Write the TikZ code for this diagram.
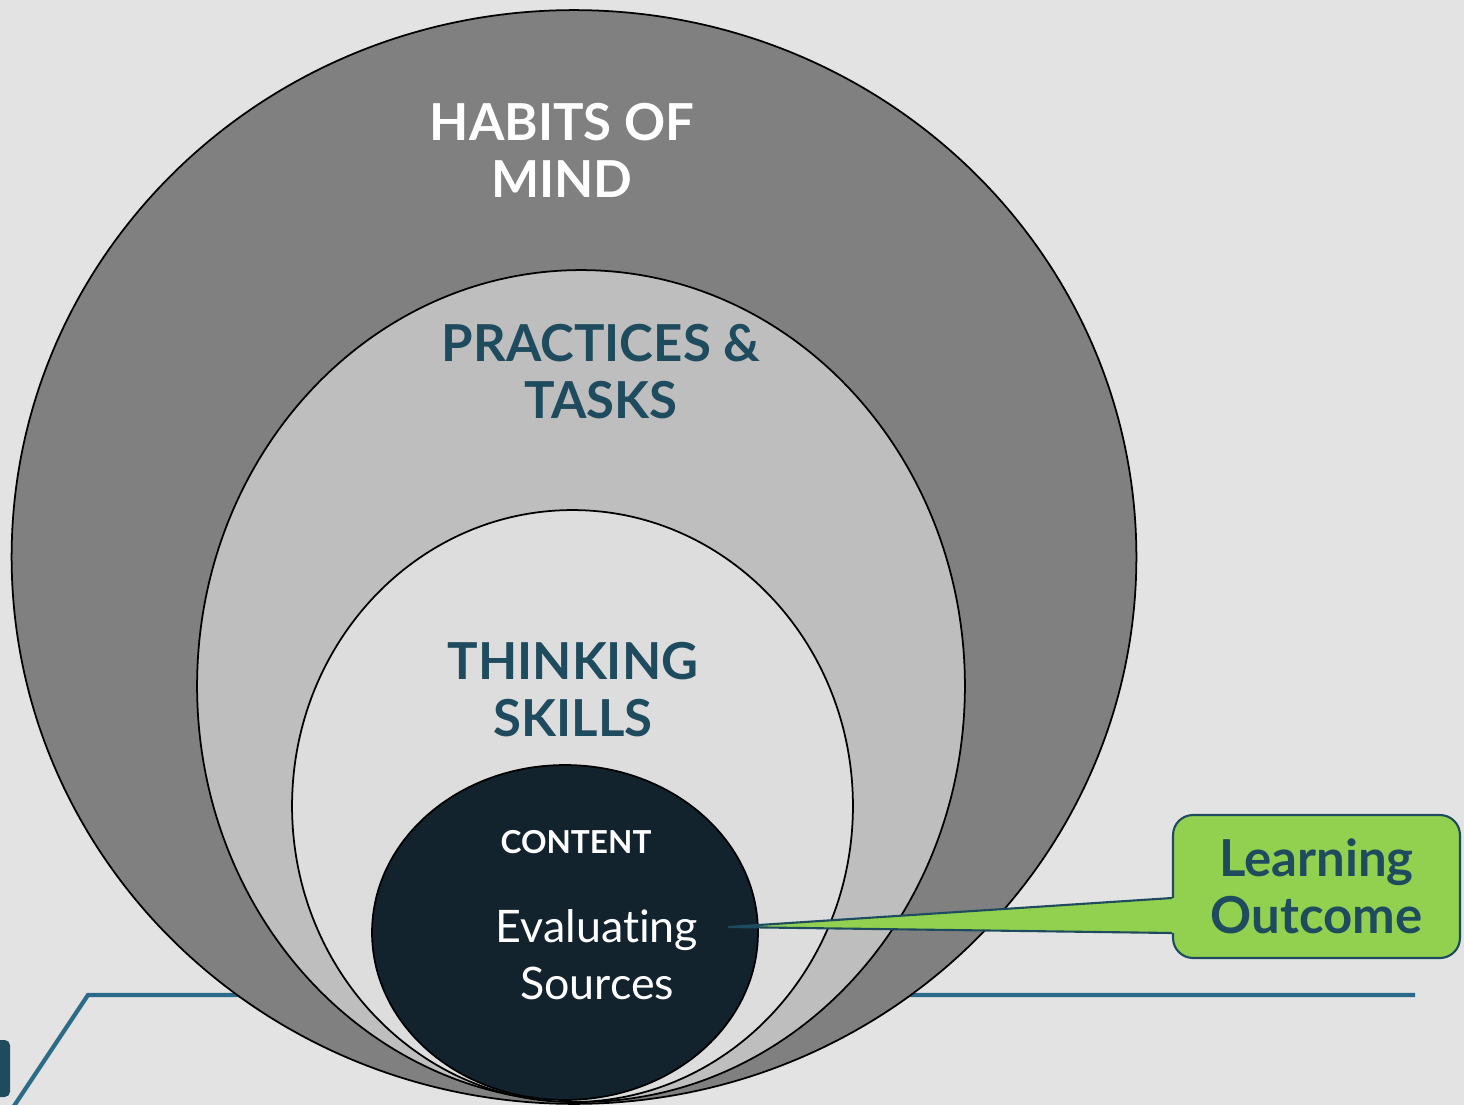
\documentclass[tikz,border=0pt]{standalone}
\usepackage{fontspec}
\setmainfont{Lato}[Ligatures=NoCommon]
\usetikzlibrary{shapes.geometric,calc}
\definecolor{paper}{HTML}{E3E3E3}
\definecolor{habitgray}{HTML}{808080}
\definecolor{practicegray}{HTML}{BEBEBE}
\definecolor{skillgray}{HTML}{DDDDDD}
\definecolor{contentnavy}{HTML}{12232E}
\definecolor{tealtext}{HTML}{1F4B5E}
\definecolor{lineblue}{HTML}{2B6A88}
\definecolor{outcomegreen}{HTML}{92D050}
\tikzstyle{ring}=[ellipse,draw=black,line width=1pt,inner sep=0pt]
\tikzstyle{heading}=[align=center,font=\bfseries\fontsize{29}{32.5}\selectfont]
\tikzstyle{learnbox}=[draw=tealtext,line width=1.2pt,fill=outcomegreen,rounded corners=0.4cm,
	minimum width=5.74cm,minimum height=2.86cm,text=tealtext,heading]

\begin{document}
\begin{tikzpicture}[x=.02cm, y=-.02cm]
	%background
	\fill[paper] (0,0) rectangle (1464,1105);
	\useasboundingbox (0,0) rectangle (1464,1105);
	%frame line
	\draw[lineblue, line width=2.4pt] (10,1112) -- (88,995) -- (1415,995);
	\fill[tealtext, rounded corners=3pt] (-10,1040) rectangle (10,1097);
	%circles
	\node[ring, fill=habitgray, minimum width=22.5cm, minimum height=21.88cm] (habits) at (574,557) {};
	\node[ring, fill=practicegray, minimum width=15.36cm, minimum height=16.64cm] (practices) at (581,686) {};
	\node[ring, fill=skillgray, minimum width=11.22cm, minimum height=11.84cm] (skills) at (572.5,806) {};
	\node[ring, fill=contentnavy, minimum width=7.72cm, minimum height=6.7cm] (content) at (565,932.5) {};
	%labels
	\node[heading, text=white] (habitstext) at (562,150) {HABITS OF\\MIND};
	\node[heading, text=tealtext] (practicestext) at (601,372) {PRACTICES \&\\TASKS};
	\node[heading, text=tealtext] (skillstext) at (573,690) {THINKING\\SKILLS};
	\node[text=white, font=\bfseries\fontsize{18}{20}\selectfont] (contenttext) at (576,842) {CONTENT};
	\node[text=white, align=center, font=\fontsize{25.5}{32.5}\selectfont] (sourcestext) at (597,955) {Evaluating\\Sources};
	%callout
	\node[learnbox] (outcome) at (1316.5,886.5) {Learning\\Outcome};
	\coordinate (tip) at (728,927);
	\fill[outcomegreen] (tip) -- ($(outcome.west)+(4,11.5)$) -- ($(outcome.west)+(4,46.5)$) -- cycle;
	\draw[tealtext, line width=1.2pt] ($(outcome.west)+(0,11.5)$) -- (tip) -- ($(outcome.west)+(0,46.5)$);
\end{tikzpicture}
\end{document}
